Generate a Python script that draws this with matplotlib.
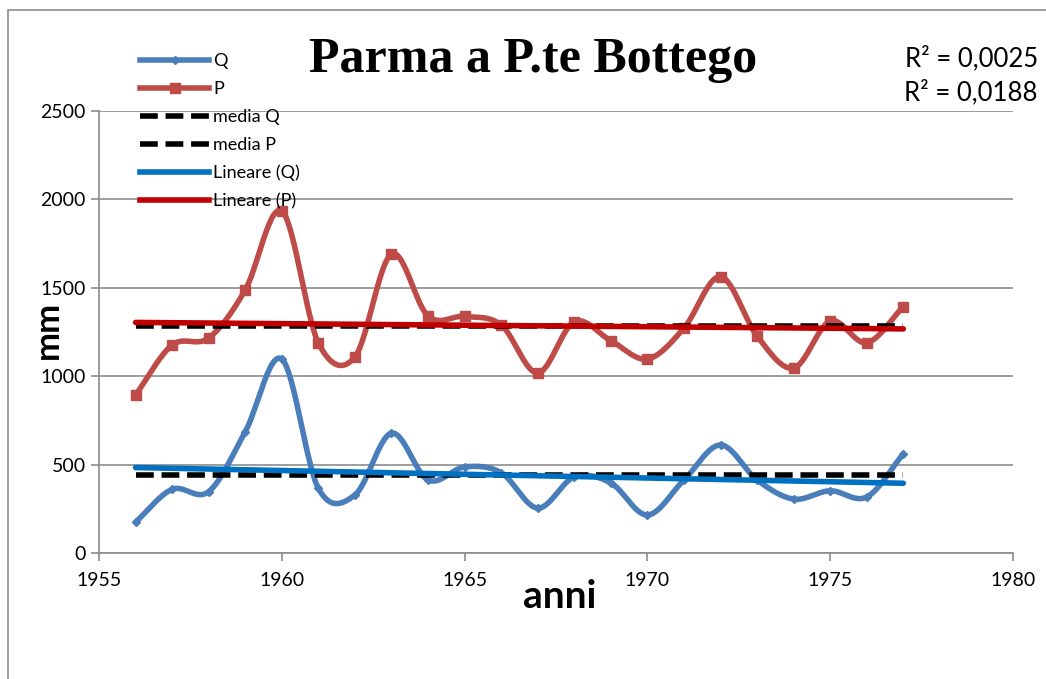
import numpy as np
import matplotlib.pyplot as plt
from matplotlib.patches import Rectangle
from matplotlib.lines import Line2D

# dati
anni = np.arange(1956, 1978)
Q = [175, 360, 347, 686, 1097, 366, 328, 678, 413, 487, 454,
     254, 430, 396, 215, 413, 611, 413, 305, 352, 317, 560]
P = [894, 1176, 1216, 1488, 1934, 1188, 1109, 1691, 1340, 1338, 1290,
     1018, 1308, 1201, 1097, 1272, 1563, 1227, 1046, 1312, 1189, 1393]
r2_labels = ['R² = 0,0025', 'R² = 0,0188']
labels = ['Q', 'P', 'media Q', 'media P', 'Lineare (Q)', 'Lineare (P)']

FONT = ['Lato', 'DejaVu Sans']
plt.rcParams['font.family'] = FONT


def smooth(x, y, n=30):
    # spline tipo Catmull-Rom (come la linea smussata di Excel)
    x = np.asarray(x, float)
    y = np.asarray(y, float)
    px = np.concatenate([[2 * x[0] - x[1]], x, [2 * x[-1] - x[-2]]])
    py = np.concatenate([[2 * y[0] - y[1]], y, [2 * y[-1] - y[-2]]])
    xs, ys = [], []
    t = np.linspace(0, 1, n, endpoint=False)
    for i in range(1, len(px) - 2):
        p0, p1, p2, p3 = py[i - 1], py[i], py[i + 1], py[i + 2]
        q0, q1, q2, q3 = px[i - 1], px[i], px[i + 1], px[i + 2]
        cy = 0.5 * (2 * p1 + (-p0 + p2) * t + (2 * p0 - 5 * p1 + 4 * p2 - p3) * t**2
                    + (-p0 + 3 * p1 - 3 * p2 + p3) * t**3)
        cx = 0.5 * (2 * q1 + (-q0 + q2) * t + (2 * q0 - 5 * q1 + 4 * q2 - q3) * t**2
                    + (-q0 + 3 * q1 - 3 * q2 + q3) * t**3)
        xs.extend(cx)
        ys.extend(cy)
    xs.append(x[-1])
    ys.append(y[-1])
    return np.array(xs), np.array(ys)


fig = plt.figure(figsize=(10.46, 6.79), dpi=100)
ax = fig.add_axes([99 / 1046, 1 - 553 / 679, (1013 - 99) / 1046, (553 - 111) / 679])

# bordo del grafico
fig.patches.append(Rectangle((8 / 1046, -0.2), 1.2, 1.2 - 10 / 679, transform=fig.transFigure,
                             fill=False, edgecolor='#8c8c8c', linewidth=1.2))

cQ = '#4a7ebb'
cP = '#be4b48'
dash = (0, (3.2, 1.4))

xq, yq = smooth(anni, Q)
xp, yp = smooth(anni, P)

ax.plot(xq, yq, color=cQ, lw=4, solid_capstyle='round', zorder=3)
ax.plot(anni, Q, ls='none', marker='D', ms=4, color=cQ, zorder=3)
ax.plot(xp, yp, color=cP, lw=4, solid_capstyle='round', zorder=3)
ax.plot(anni, P, ls='none', marker='s', ms=7, color=cP, zorder=3)

# medie
ax.plot([anni[0], anni[-1]], [np.mean(Q)] * 2, color='black', lw=4, ls=dash, zorder=4)
ax.plot([anni[0], anni[-1]], [np.mean(P)] * 2, color='black', lw=4, ls=dash, zorder=4)

# trend lineari
fq = np.polyfit(anni, Q, 1)
fp = np.polyfit(anni, P, 1)
ax.plot(anni, np.polyval(fq, anni), color='#0070c0', lw=4, solid_capstyle='round', zorder=5)
ax.plot(anni, np.polyval(fp, anni), color='#c00000', lw=4, solid_capstyle='round', zorder=5)

ax.set_xlim(1955, 1980)
ax.set_ylim(0, 2500)
ax.set_xticks(np.arange(1955, 1981, 5))
ax.set_yticks(np.arange(0, 2501, 500))
ax.yaxis.grid(True, color='#8c8c8c', lw=1.2)
ax.set_axisbelow(True)
for s in ['top', 'right']:
    ax.spines[s].set_visible(False)
for s in ['left', 'bottom']:
    ax.spines[s].set_color('#8c8c8c')
    ax.spines[s].set_linewidth(1.2)
ax.tick_params(axis='both', colors='#8c8c8c', length=6, width=1.2, labelcolor='black', labelsize=14)
ax.tick_params(axis='x', pad=8)

fig.text(48 / 1046, 1 - 330 / 679, 'mm', rotation=90, fontsize=25, fontweight='bold',
         ha='center', va='center')
fig.text(560 / 1046, 1 - 596 / 679, 'anni', fontsize=28, fontweight='bold',
         ha='center', va='center')

fig.text(533 / 1046, 1 - 60 / 679, 'Parma a P.te Bottego', fontsize=36, fontweight='bold',
         family=['Liberation Serif', 'DejaVu Serif'], ha='center', va='center')

fig.text(1038 / 1046, 1 - 58 / 679, r2_labels[0], fontsize=18.5, ha='right', va='center')
fig.text(1038 / 1046, 1 - 92 / 679, r2_labels[1], fontsize=18.5, ha='right', va='center')

# legenda
handles = [
    Line2D([], [], color=cQ, lw=4, marker='D', ms=4),
    Line2D([], [], color=cP, lw=4, marker='s', ms=7),
    Line2D([], [], color='black', lw=4, ls=dash),
    Line2D([], [], color='black', lw=4, ls=dash),
    Line2D([], [], color='#0070c0', lw=4),
    Line2D([], [], color='#c00000', lw=4),
]
fig.legend(handles, labels, loc='upper left', bbox_to_anchor=(133 / 1046, 1 - 46 / 679),
           frameon=False, fontsize=13, handlelength=3.8, handletextpad=0.25,
           labelspacing=0.66, borderaxespad=0)

fig.savefig('out.png', dpi=100)
